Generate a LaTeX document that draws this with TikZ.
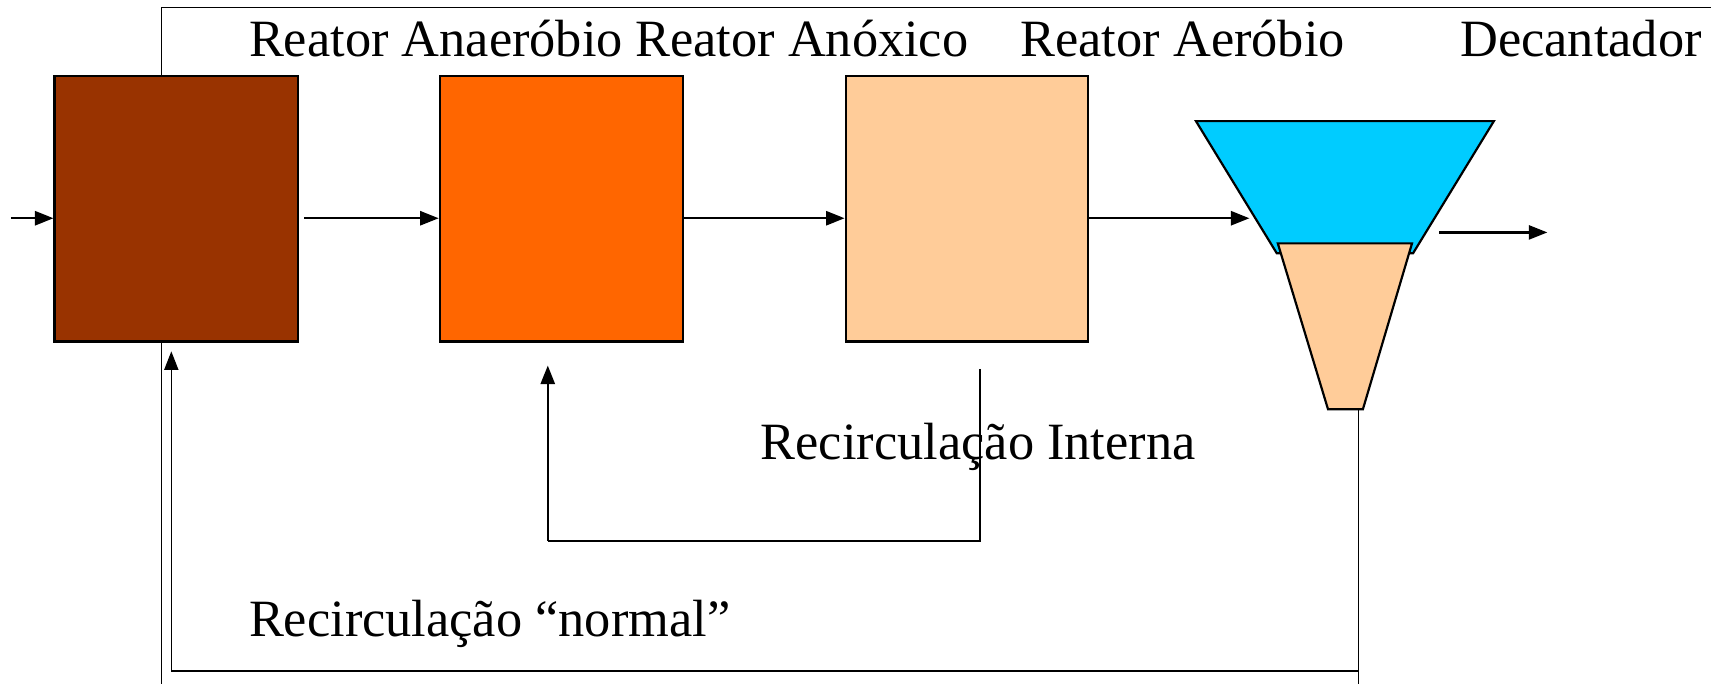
\documentclass[tikz,border=0pt]{standalone}
\usepackage{fontspec}
\setmainfont{Liberation Serif}
\usetikzlibrary{arrows.meta}

\tikzset{
  tank/.style={draw, line width=2pt, minimum height=243pt, inner sep=0pt},
  flow/.style={line width=2pt, -{Triangle[length=17pt,width=13pt]}},
  pipe/.style={line width=2pt},
  thin pipe/.style={line width=1.1pt},
  label/.style={anchor=base west, inner sep=0pt, font=\fontsize{48}{56}\selectfont}
}

\begin{document}
\begin{tikzpicture}[x=1pt, y=-1pt]
\useasboundingbox (0,0) rectangle (1568,627);

% Reactors
\node[tank, fill={rgb,255:red,153;green,51;blue,0}, minimum width=223pt] (anaer) at (161.5,191.5) {};
\node[tank, fill={rgb,255:red,255;green,102;blue,0}, minimum width=223pt] (anox) at (514.5,191.5) {};
\node[tank, fill={rgb,255:red,255;green,204;blue,153}, minimum width=222pt] (aer) at (886,191.5) {};

% Settler
\draw[pipe, fill={rgb,255:red,0;green,204;blue,255}] (1096,111) -- (1369,111) -- (1295,232) -- (1170,232) -- cycle;
\draw[pipe, fill={rgb,255:red,255;green,204;blue,153}] (1171,223) -- (1294,223) -- (1249,375) -- (1217,375) -- cycle;

% Labels
\node[label] (lanaer) at (228,51.5) {Reator Anaeróbio};
\node[label] (lanox) at (582,51.5) {Reator Anóxico};
\node[label] (laer) at (935,51.5) {Reator Aeróbio};
\node[label] (ldec) at (1338,51.5) {Decantador};
\node[label] (lint) at (697,421) {Recirculação Interna};
\node[label] (lnorm) at (228,583) {Recirculação “normal”};

% Points
\coordinate (in) at (10,200);
\coordinate (a1) at (279,200);
\coordinate (a2) at (626,200);
\coordinate (a3) at (997,200);
\coordinate (d1) at (1145,200);
\coordinate (out0) at (1319,213);
\coordinate (out1) at (1418,213);
\coordinate (top0) at (148,70);
\coordinate (top1) at (148,7);
\coordinate (top2) at (1568,7);
\coordinate (bot0) at (148,313);
\coordinate (bot1) at (148,627);
\coordinate (dec0) at (1245,375);
\coordinate (dec1) at (1245,627);
\coordinate (rn0) at (1245,615);
\coordinate (rn1) at (157,615);
\coordinate (rn2) at (157,322);
\coordinate (ri0) at (898,338);
\coordinate (ri1) at (898,496);
\coordinate (ri2) at (502,496);
\coordinate (ri3) at (502,335);

% Arrows
\draw[flow] (in) -- (in -| anaer.west);
\draw[flow] (a1) -- (a1 -| anox.west);
\draw[flow] (a2) -- (a2 -| aer.west);
\draw[flow] (a3) -- (d1);
\draw[flow] (out0) -- (out1);
\draw[pipe] (ri0) -- (ri1) -- (ri2);
\draw[flow] (ri2) -- (ri3);
\draw[pipe] (rn0) -- (rn1);
\draw[thin pipe, -{Triangle[length=17pt,width=13pt]}] (rn1) -- (rn2);
\draw[thin pipe] (top0) -- (top1) -- (top2);
\draw[thin pipe] (bot0) -- (bot1);
\draw[thin pipe] (dec0) -- (dec1);

\end{tikzpicture}
\end{document}
